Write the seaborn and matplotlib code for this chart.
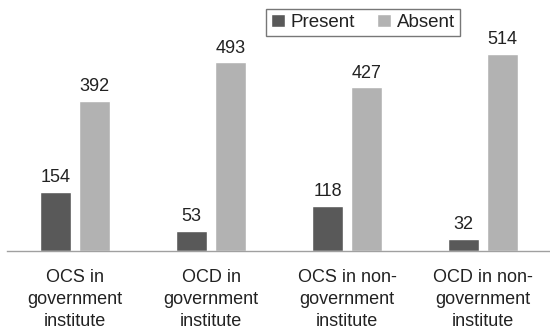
import matplotlib
matplotlib.use("Agg")
import matplotlib.pyplot as plt
import seaborn as sns
import pandas as pd

categories = ["OCS in\ngovernment\ninstitute", "OCD in\ngovernment\ninstitute",
              "OCS in non-\ngovernment\ninstitute", "OCD in non-\ngovernment\ninstitute"]
present = [154, 53, 118, 32]
absent = [392, 493, 427, 514]
series = ["Present", "Absent"]
colors = ["#595959", "#b2b2b2"]

df = pd.DataFrame({
    "category": categories * 2,
    "status": ["Present"] * len(categories) + ["Absent"] * len(categories),
    "count": present + absent,
})

sns.set_theme(style="white")
plt.rcParams["font.family"] = ["Liberation Sans", "DejaVu Sans"]

fig = plt.figure(figsize=(5.5, 3.29), dpi=100)
ax = fig.add_axes([7 / 550, 78 / 329, 544 / 550, 251 / 329])

sns.barplot(data=df, x="category", y="count", hue="status", hue_order=series,
            palette=colors, width=0.574, gap=0.23, saturation=1, ax=ax,
            errorbar=None, legend=True)

for cont in ax.containers:
    ax.bar_label(cont, fmt="%d", padding=4, fontsize=13, color="#222222")

ax.set_ylim(0, 655)
ax.set_xlim(-0.5, 3.5)
ax.set_xlabel("")
ax.set_ylabel("")
ax.set_yticks([])
for side in ["top", "left", "right"]:
    ax.spines[side].set_visible(False)
ax.spines["bottom"].set_color("#a0a0a0")
ax.spines["bottom"].set_linewidth(1.0)
ax.tick_params(axis="x", length=0, pad=13, labelsize=13, labelcolor="#222222")
for lbl in ax.get_xticklabels():
    lbl.set_linespacing(1.38)

leg = ax.legend(loc="upper center", bbox_to_anchor=((363 - 7) / 544, 1.0 - 9 / 251),
                ncol=2, fontsize=13.5, frameon=True, fancybox=False,
                handlelength=0.75, handleheight=0.75, handletextpad=0.3,
                columnspacing=1.2, borderpad=0.25, borderaxespad=0)
leg.get_frame().set_edgecolor("#555555")
leg.get_frame().set_linewidth(1.0)
for t in leg.get_texts():
    t.set_color("#222222")

fig.savefig("out.png", dpi=100)
